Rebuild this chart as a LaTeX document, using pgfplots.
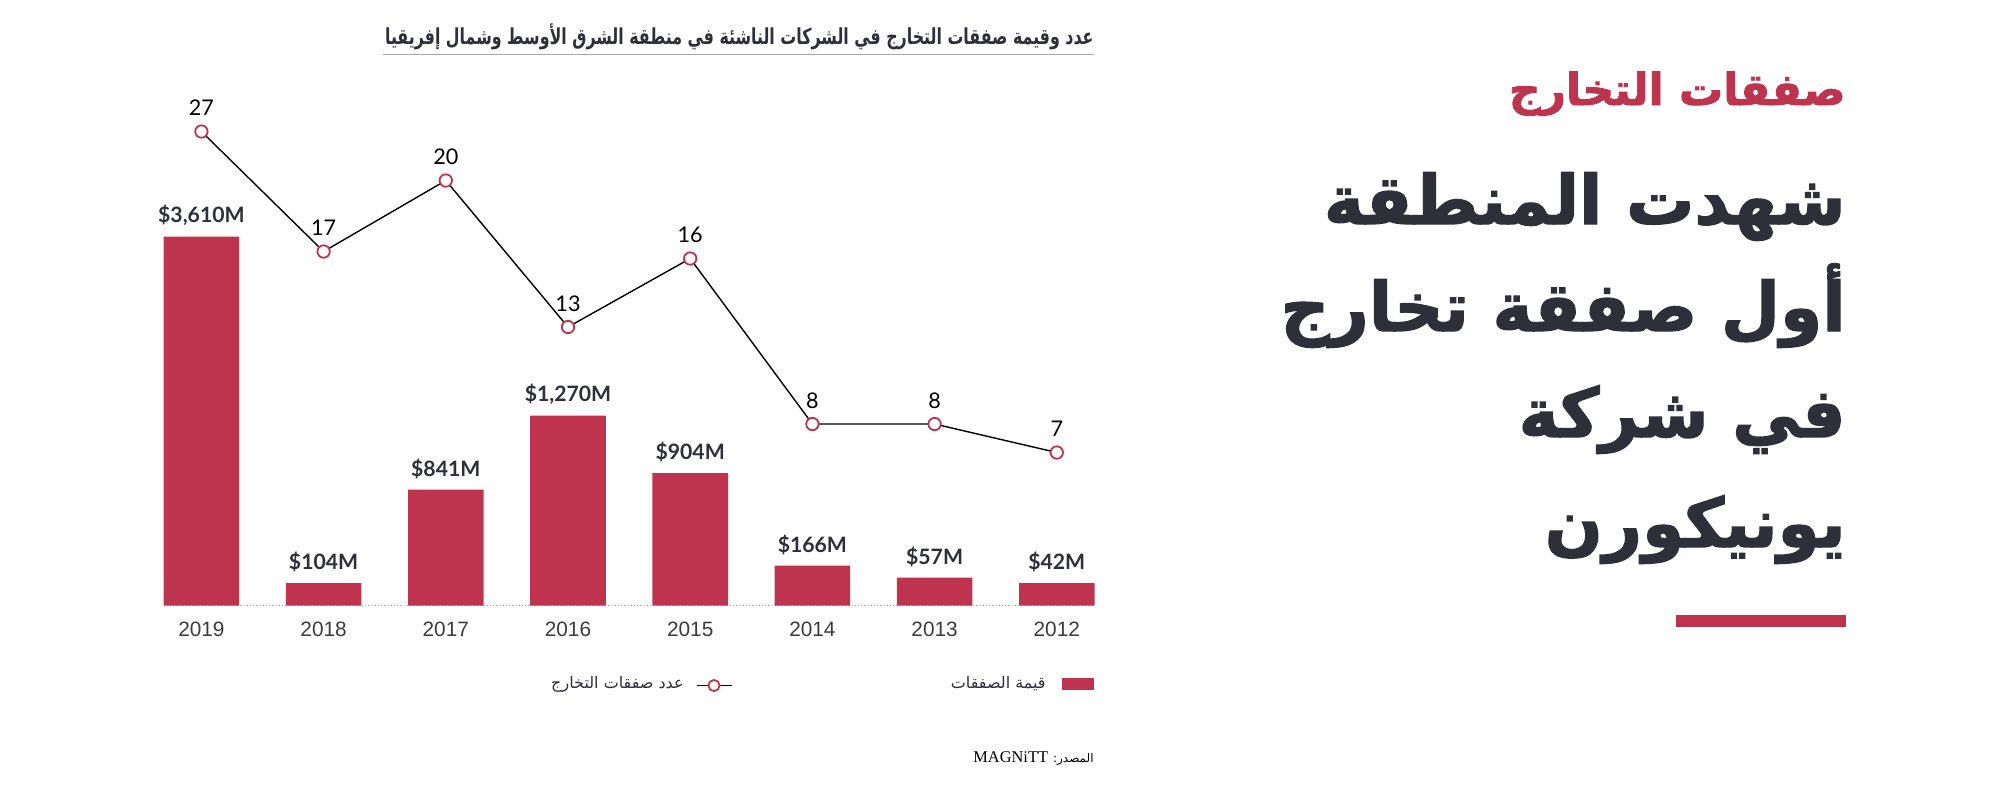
\documentclass[border=0pt]{standalone}
\usepackage{fontspec}
\usepackage{pgfplots}
\usepackage{pgfplotstable}
\pgfplotsset{compat=1.18}
\TeXXeTstate=1
\setmainfont{Lato}
\newfontfamily\arabicfont[Script=Arabic]{DejaVu Sans}
\newfontfamily\arabicheavy[Script=Arabic, FakeBold=2]{DejaVu Sans Bold}
\newfontfamily\helv{Liberation Sans}
\newfontfamily\serifen{Liberation Serif}
\definecolor{barred}{HTML}{BE344E}
\definecolor{dark}{HTML}{2E2F38}
\definecolor{ticky}{HTML}{3C3C3C}

% bar heights as drawn (px above baseline) and their labels
\pgfplotstableread{
x h lab
0 369 {\$3,610M}
1 22.4 {\$104M}
2 116 {\$841M}
3 190 {\$1,270M}
4 132.4 {\$904M}
5 40 {\$166M}
6 28 {\$57M}
7 22.3 {\$42M}
}\bars
% number of exits, as drawn (px above baseline) and labels
\pgfplotstableread{
x h lab
0 474 27
1 354 17
2 425 20
3 278.5 13
4 347 16
5 181.5 8
6 181.5 8
7 153 7
}\exits

\begin{document}
\begin{tikzpicture}
\path[use as bounding box, fill=white] (0,0) rectangle (1000pt,-400pt);
\begin{axis}[
  at={(70.15pt,-302.75pt)}, anchor=south west,
  scale only axis, width=488.8pt, height=250pt,
  xmin=-0.5, xmax=7.5, ymin=0, ymax=500,
  clip=false,
  axis line style={draw=none},
  tick style={draw=none},
  ytick=\empty,
  xtick={0,...,7},
  xticklabels={2019,2018,2017,2016,2015,2014,2013,2012},
  xticklabel style={font=\helv\fontsize{10.4}{12}\selectfont, text=ticky, yshift=-4.5pt},
]
\addplot[ticky!40, densely dotted, line width=0.6pt] coordinates {(-0.31,0) (7.31,0)};
\addplot[ybar, bar width=37.8pt, fill=barred, draw=none,
  point meta=explicit symbolic,
  nodes near coords,
  every node near coord/.append style={font=\bfseries\fontsize{10.6}{12}\selectfont, text=dark, anchor=south, yshift=2pt}]
  table[x=x, y=h, meta=lab] {\bars};
\addplot[black, line width=0.7pt, mark=*, mark size=3.1pt,
  mark options={fill=white, draw=barred, line width=0.9pt},
  point meta=explicit symbolic,
  nodes near coords,
  every node near coord/.append style={font=\fontsize{10.8}{12}\selectfont, text=black, anchor=south, yshift=4pt}]
  table[x=x, y=h, meta=lab] {\exits};
\end{axis}

\begin{scope}[x=0.5pt, y=-0.5pt]
% chart title
\node[anchor=base east, inner sep=0pt, text=dark] at (1094,44)
  {\scalebox{0.72}[1]{\arabicfont\bfseries\fontsize{11}{13}\selectfont\beginR عدد وقيمة صفقات التخارج في الشركات الناشئة في منطقة الشرق الأوسط وشمال إفريقيا\endR}};
\draw[gray!70, line width=0.8pt] (383,54.5) -- (1094,54.5);

% legend
\fill[barred] (1062,677.5) rectangle (1094,690);
\node[anchor=east, inner sep=0pt, text=dark] at (1046,684)
  {\arabicfont\fontsize{8}{10}\selectfont\beginR قيمة الصفقات\endR};
\draw[black, line width=0.8pt] (697,685.5) -- (732,685.5);
\draw[barred, fill=white, line width=0.9pt] (714,685.5) circle (5.6);
\node[anchor=east, inner sep=0pt, text=dark] at (684,684)
  {\arabicfont\fontsize{8}{10}\selectfont\beginR عدد صفقات التخارج\endR};

% source
\node[anchor=east, inner sep=0pt, text=black] at (1094,759)
  {\arabicfont\fontsize{6}{9}\selectfont\beginR المصدر: \beginL{\serifen\fontsize{8.2}{10}\selectfont MAGNiTT}\endL\endR};

% right side headline
\node[anchor=base east, inner sep=0pt, text=barred] at (1846,105)
  {\arabicheavy\fontsize{22}{26}\selectfont\beginR صفقات التخارج\endR};
\node[anchor=base east, inner sep=0pt, text=dark] at (1846,224)
  {\arabicheavy\fontsize{34}{40}\selectfont\beginR شهدت المنطقة\endR};
\node[anchor=base east, inner sep=0pt, text=dark] at (1846,331)
  {\arabicheavy\fontsize{34}{40}\selectfont\beginR أول صفقة تخارج\endR};
\node[anchor=base east, inner sep=0pt, text=dark] at (1846,437)
  {\arabicheavy\fontsize{34}{40}\selectfont\beginR في شركة\endR};
\node[anchor=base east, inner sep=0pt, text=dark] at (1846,547)
  {\arabicheavy\fontsize{34}{40}\selectfont\beginR يونيكورن\endR};
\fill[barred] (1676,615) rectangle (1846,627);
\end{scope}
\end{tikzpicture}
\end{document}
